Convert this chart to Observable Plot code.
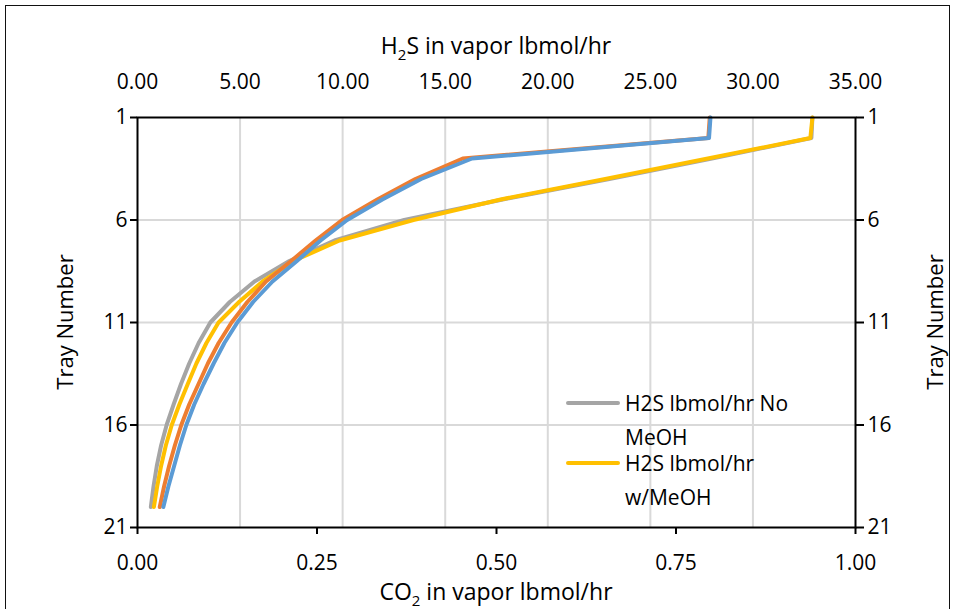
<!DOCTYPE html>
<html>
<head>
<meta charset="utf-8">
<script src="https://cdn.jsdelivr.net/npm/d3@7"></script>
<script src="https://cdn.jsdelivr.net/npm/@observablehq/plot@0.6"></script>
<style>
  html, body { margin: 0; padding: 0; background: #fff; }
  #wrap { position: relative; width: 956px; height: 609px; overflow: hidden; font-family: "Open Sans", sans-serif; color: #000; }
  #border { position: absolute; left: 5px; top: 5px; width: 945px; height: 640px; border: 1.5px solid #111; box-sizing: border-box; }
  .ttl { position: absolute; font-size: 23px; white-space: nowrap; line-height: 1; }
  .ttl sub { font-size: 15px; vertical-align: -6px; line-height: 0; }
  #leftTitle, #rightTitle { font-size: 22px; }
  #legend { position: absolute; left: 566px; top: 386px; font-size: 21px; line-height: 34px; }
  .lg { display: flex; align-items: flex-start; }
  .lg + .lg { margin-top: -8px; }
  .sw { width: 54px; height: 4px; margin-top: 15px; margin-right: 5px; border-radius: 2px; flex: none; }
</style>
</head>
<body>
<div id="wrap">
  <div id="border"></div>
  <div id="chart"></div>
  <div class="ttl" id="topTitle">H<sub>2</sub>S in vapor lbmol/hr</div>
  <div class="ttl" id="botTitle">CO<sub>2</sub> in vapor lbmol/hr</div>
  <div class="ttl" id="leftTitle">Tray Number</div>
  <div class="ttl" id="rightTitle">Tray Number</div>
  <div id="legend"></div>
</div>
<script>
// ---- data ----
const trays = [1, 2, 3, 4, 5, 6, 7, 8, 9, 10, 11, 12, 13, 14, 15, 16, 17, 18, 19, 20];
// H2S in vapor (lbmol/hr), top axis
const h2sNoMeOH = [32.9, 32.85, 28.0, 23.0, 17.8, 13.0, 9.6, 7.4, 5.7, 4.5, 3.55, 2.98, 2.52, 2.12, 1.76, 1.42, 1.15, 0.94, 0.78, 0.65];
const h2sMeOH   = [32.9, 32.8, 27.8, 22.8, 17.7, 13.45, 9.85, 7.6, 6.1, 4.95, 3.95, 3.36, 2.87, 2.45, 2.04, 1.67, 1.38, 1.15, 0.96, 0.80];
// CO2 in vapor (lbmol/hr), bottom axis
const co2NoMeOH = [0.798, 0.796, 0.466, 0.395, 0.341, 0.292, 0.255, 0.222, 0.188, 0.161, 0.139, 0.121, 0.106, 0.092, 0.079, 0.068, 0.059, 0.051, 0.043, 0.036];
const co2MeOH   = [0.797, 0.795, 0.453, 0.387, 0.334, 0.285, 0.248, 0.214, 0.179, 0.153, 0.131, 0.113, 0.098, 0.085, 0.072, 0.061, 0.052, 0.044, 0.037, 0.031];

const h2sTicks = [0, 5, 10, 15, 20, 25, 30, 35];
const co2Ticks = [0, 0.25, 0.5, 0.75, 1.0];
const trayTicks = [1, 6, 11, 16, 21];
const h2sMax = 35, co2Max = 1.0;

const legendNames = ["H2S lbmol/hr No MeOH", "H2S lbmol/hr w/MeOH"];
const colors = { h2sNo: "#A5A5A5", h2sMe: "#FFC000", co2No: "#5B9BD5", co2Me: "#ED7D31" };

// rows for the library
const rows = trays.map((t, i) => ({
  tray: t,
  h2sNo: h2sNoMeOH[i], h2sMe: h2sMeOH[i],
  co2No: co2NoMeOH[i], co2Me: co2MeOH[i]
}));
// CO2 shares the x scale: map CO2 range onto H2S range
const k = h2sMax / co2Max;

const W = 956, H = 609;
const mL = 137, mR = 101, mT = 117, mB = 82;

const chart = Plot.plot({
  width: W, height: H,
  marginLeft: mL, marginRight: mR, marginTop: mT, marginBottom: mB,
  style: { fontFamily: "'Open Sans', sans-serif", fontSize: "21px", color: "#000", background: "transparent", overflow: "visible" },
  x: { domain: [0, h2sMax] },
  y: { domain: [trayTicks[0], trayTicks[trayTicks.length - 1]], reverse: true },
  marks: [
    Plot.gridX(h2sTicks.slice(1, -1), { stroke: "#D9D9D9", strokeOpacity: 1, strokeWidth: 2 }),
    Plot.gridY(trayTicks.slice(1, -1), { stroke: "#D9D9D9", strokeOpacity: 1, strokeWidth: 2 }),
    Plot.line(rows, { x: "h2sNo", y: "tray", stroke: colors.h2sNo, strokeWidth: 4 }),
    Plot.line(rows, { x: "h2sMe", y: "tray", stroke: colors.h2sMe, strokeWidth: 4 }),
    Plot.line(rows, { x: d => d.co2Me * k, y: "tray", stroke: colors.co2Me, strokeWidth: 4 }),
    Plot.line(rows, { x: d => d.co2No * k, y: "tray", stroke: colors.co2No, strokeWidth: 4 }),
    Plot.frame({ stroke: "#000", strokeWidth: 2 }),
    Plot.axisX(h2sTicks, { anchor: "top", tickSize: 0, tickPadding: 29, tickFormat: d => d.toFixed(2), label: null }),
    Plot.axisX(co2Ticks.map(v => v * k), { anchor: "bottom", tickSize: 7, tickPadding: 21, stroke: "#000", strokeWidth: 2, strokeOpacity: 1, tickFormat: d => (d / k).toFixed(2), label: null }),
    Plot.axisY(trayTicks, { anchor: "left", tickSize: 7, tickPadding: 3, stroke: "#000", strokeWidth: 2, strokeOpacity: 1, tickFormat: d => String(d), label: null }),
    Plot.axisY(trayTicks, { anchor: "right", tickSize: 8, tickPadding: 4, stroke: "#000", strokeWidth: 2, strokeOpacity: 1, tickFormat: d => String(d), label: null })
  ]
});
document.getElementById("chart").appendChild(chart);

// titles placement (centered on plot area)
const cx = mL + (W - mL - mR) / 2, cy = mT + (H - mT - mB) / 2;
function place(id, x, y, rot) {
  const el = document.getElementById(id);
  const r = el.getBoundingClientRect();
  el.style.left = (x - r.width / 2) + "px";
  el.style.top = (y - r.height / 2) + "px";
  if (rot) el.style.transform = "rotate(-90deg)";
}
place("topTitle", cx, 45);
place("botTitle", cx, 591);
place("leftTitle", 64, cy, true);
place("rightTitle", 934, cy, true);

// legend (only the two H2S series, as in the reference)
const lg = document.getElementById("legend");
[[legendNames[0], colors.h2sNo], [legendNames[1], colors.h2sMe]].forEach(([name, c]) => {
  const row = document.createElement("div");
  row.className = "lg";
  const sw = document.createElement("div");
  sw.className = "sw"; sw.style.background = c;
  const tx = document.createElement("div");
  tx.style.width = "190px";
  tx.textContent = name;
  row.appendChild(sw); row.appendChild(tx);
  lg.appendChild(row);
});
</script>
</body>
</html>
